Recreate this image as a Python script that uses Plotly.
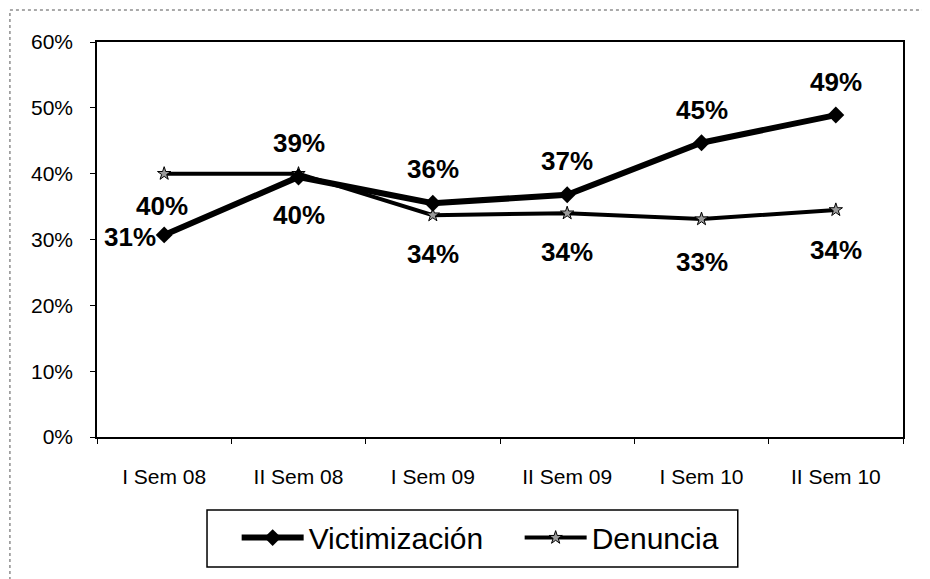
import plotly.graph_objects as go

# --- datos ---
periodos = ['I Sem 08', 'II Sem 08', 'I Sem 09', 'II Sem 09', 'I Sem 10', 'II Sem 10']
victimizacion = [0.307, 0.395, 0.355, 0.368, 0.447, 0.489]
denuncia = [0.400, 0.400, 0.337, 0.340, 0.331, 0.345]
etiquetas_vict = ['31%', '39%', '36%', '37%', '45%', '49%']
etiquetas_den = ['40%', '40%', '34%', '34%', '33%', '34%']
y_ticks = [0, 0.1, 0.2, 0.3, 0.4, 0.5, 0.6]

# desplazamientos de las etiquetas (px)
desp_vict = [(-34, -2), (0, 34), (0, 34), (0, 34), (0, 33), (0, 33)]
desp_den = [(-2, -32), (0, -41), (0, -39), (0, -39), (0, -43), (0, -40)]

FUENTE = 'Liberation Sans, Arial, sans-serif'

fig = go.Figure()
fig.add_trace(go.Scatter(
    x=periodos, y=denuncia, name='Denuncia', mode='lines+markers',
    line=dict(color='black', width=4),
    marker=dict(symbol='star', size=10, color='#9a9a9a', line=dict(color='black', width=1)),
))
fig.add_trace(go.Scatter(
    x=periodos, y=victimizacion, name='Victimización', mode='lines+markers',
    line=dict(color='black', width=6),
    marker=dict(symbol='diamond', size=13, color='black'),
))

anot = []
for p, v, t, (dx, dy) in zip(periodos, victimizacion, etiquetas_vict, desp_vict):
    anot.append(dict(x=p, y=v, text=t, showarrow=False, xshift=dx, yshift=dy,
                     font=dict(family=FUENTE, size=26, color='black', weight='bold')))
for p, v, t, (dx, dy) in zip(periodos, denuncia, etiquetas_den, desp_den):
    anot.append(dict(x=p, y=v, text=t, showarrow=False, xshift=dx, yshift=dy,
                     font=dict(family=FUENTE, size=26, color='black', weight='bold')))

# la página deja 8 px de margen, por eso el lienzo es algo menor
fig.update_layout(
    width=922, height=571,
    paper_bgcolor='white', plot_bgcolor='white',
    margin=dict(l=89, r=27, t=34, b=142),
    font=dict(family=FUENTE, size=21, color='black'),
    annotations=anot,
    showlegend=True,
    legend=dict(
        orientation='h', xref='container', yref='container',
        x=0.248, xanchor='left', y=0.118, yanchor='top',
        borderwidth=0, bgcolor='rgba(0,0,0,0)',
        font=dict(family=FUENTE, size=30, color='black'),
        traceorder='reversed', itemwidth=62,
        entrywidth=206, entrywidthmode='pixels',
    ),
    shapes=[
        # marco exterior punteado
        dict(type='rect', xref='paper', yref='paper',
             x0=-0.108, x1=1.2, y0=-0.5, y1=1.081,
             line=dict(color='#555', width=1, dash='dot')),
        # recuadro de la leyenda
        dict(type='rect', xref='paper', yref='paper',
             x0=0.1365, x1=0.795, y0=-0.329, y1=-0.1848,
             line=dict(color='black', width=1.5)),
    ],
)
fig.update_xaxes(
    type='category', range=[-0.5, 5.5],
    showline=True, linecolor='black', linewidth=1.5, mirror=True,
    ticks='outside', ticklen=5, tickcolor='black', tickson='boundaries',
    showgrid=False, ticklabelstandoff=20,
    tickfont=dict(family=FUENTE, size=21),
)
fig.update_yaxes(
    range=[0, 0.6], tickvals=y_ticks, tickformat='.0%',
    showline=True, linecolor='black', linewidth=1.5, mirror=True,
    ticks='outside', ticklen=5, tickcolor='black',
    showgrid=False, zeroline=False, ticklabelstandoff=13,
    tickfont=dict(family=FUENTE, size=21),
)

fig.write_html('out.html')
